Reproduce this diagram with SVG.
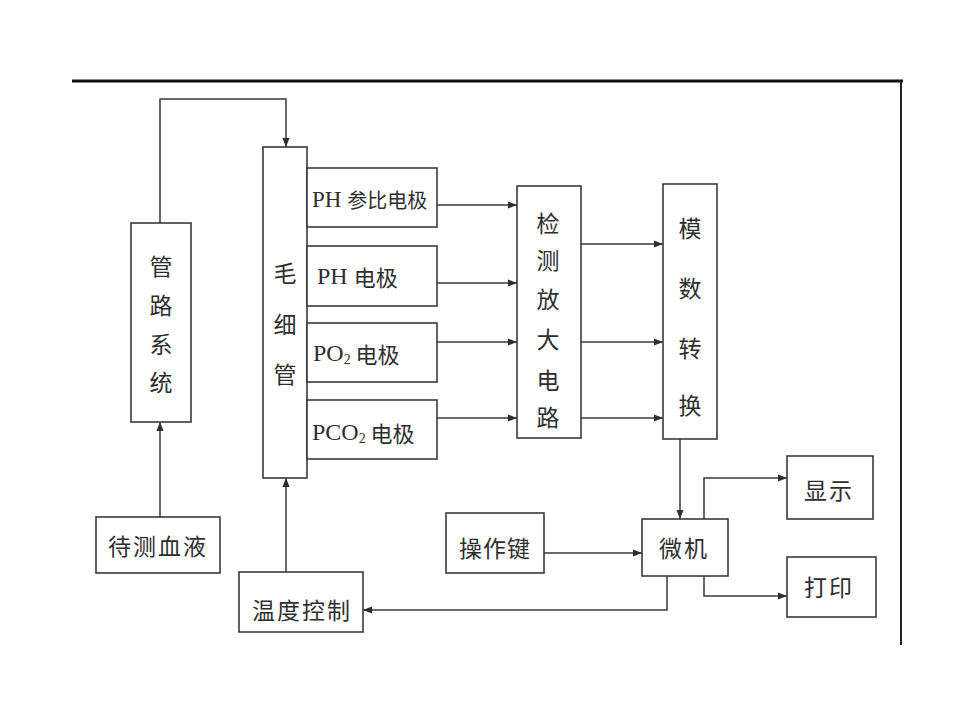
<svg xmlns="http://www.w3.org/2000/svg" width="960" height="720" viewBox="0 0 960 720">
<style>
.box{fill:#fff;stroke:#3a3a3a;stroke-width:1.6}
.cn{font-family:"Noto Sans CJK SC","Noto Sans",sans-serif;font-size:23px;fill:#2e2e2e;text-anchor:middle;dominant-baseline:central}
.lat{font-family:"Liberation Serif","Noto Sans CJK SC",serif;font-size:24px;fill:#2e2e2e;dominant-baseline:central}
.lat .c{font-family:"Noto Sans CJK SC",sans-serif;font-size:22px}
.ln{fill:none;stroke:#3a3a3a;stroke-width:1.5}
</style>
<defs>
<marker id="ah" viewBox="0 0 10 10" refX="10" refY="5" markerWidth="9" markerHeight="9" markerUnits="userSpaceOnUse" orient="auto">
<path d="M0,1 L10,5 L0,9 Z" fill="#2e2e2e"/>
</marker>
</defs>
<rect width="960" height="720" fill="#fff"/>
<g id="frame">
<line x1="72" y1="81" x2="903" y2="81" stroke="#111" stroke-width="3"/>
<line x1="901" y1="81" x2="901" y2="645" stroke="#222" stroke-width="2"/>
</g>
<g id="connectors">
<path class="ln" d="M160,223 V99 H286 V147" marker-end="url(#ah)"/>
<path class="ln" d="M160,517 V422" marker-end="url(#ah)"/>
<path class="ln" d="M286,572 V478" marker-end="url(#ah)"/>
<path class="ln" d="M437,205 H517" marker-end="url(#ah)"/>
<path class="ln" d="M437,283 H517" marker-end="url(#ah)"/>
<path class="ln" d="M437,342 H517" marker-end="url(#ah)"/>
<path class="ln" d="M437,418 H517" marker-end="url(#ah)"/>
<path class="ln" d="M581,244 H663" marker-end="url(#ah)"/>
<path class="ln" d="M581,342 H663" marker-end="url(#ah)"/>
<path class="ln" d="M581,418 H663" marker-end="url(#ah)"/>
<path class="ln" d="M680,439 V519" marker-end="url(#ah)"/>
<path class="ln" d="M544,553 H642" marker-end="url(#ah)"/>
<path class="ln" d="M704,519 V478 H787" marker-end="url(#ah)"/>
<path class="ln" d="M704,576 V596 H787" marker-end="url(#ah)"/>
<path class="ln" d="M667,576 V610 H363" marker-end="url(#ah)"/>
</g>
<g id="n-guanlu">
<rect class="box" x="131" y="223" width="60" height="199"/>
<text class="cn" x="161" y="265">管</text>
<text class="cn" x="161" y="304">路</text>
<text class="cn" x="161" y="343">系</text>
<text class="cn" x="161" y="381">统</text>
</g>
<g id="n-maoxiguan">
<rect class="box" x="263" y="147" width="44" height="331"/>
<text class="cn" x="285" y="272">毛</text>
<text class="cn" x="285" y="323">细</text>
<text class="cn" x="285" y="373">管</text>
</g>
<g id="n-ph-ref">
<rect class="box" x="307" y="168" width="130" height="59"/>
<text class="lat" x="312" y="199" style="font-size:23px">PH <tspan class="c" style="font-size:20px">参比电极</tspan></text>
</g>
<g id="n-ph">
<rect class="box" x="307" y="246" width="130" height="60"/>
<text class="lat" x="317" y="276">PH <tspan class="c">电极</tspan></text>
</g>
<g id="n-po2">
<rect class="box" x="307" y="323" width="130" height="59"/>
<text class="lat" x="313" y="353">PO<tspan style="font-size:14px" dy="6">2</tspan><tspan class="c" dy="-6"> 电极</tspan></text>
</g>
<g id="n-pco2">
<rect class="box" x="307" y="400" width="130" height="59"/>
<text class="lat" x="312" y="432">PCO<tspan style="font-size:14px" dy="6">2</tspan><tspan class="c" dy="-6"> 电极</tspan></text>
</g>
<g id="n-jiance">
<rect class="box" x="517" y="186" width="64" height="252"/>
<text class="cn" x="548" y="222">检</text>
<text class="cn" x="548" y="259">测</text>
<text class="cn" x="548" y="298">放</text>
<text class="cn" x="548" y="338">大</text>
<text class="cn" x="548" y="379">电</text>
<text class="cn" x="548" y="416">路</text>
</g>
<g id="n-moshu">
<rect class="box" x="663" y="184" width="54" height="255"/>
<text class="cn" x="690" y="227">模</text>
<text class="cn" x="690" y="287">数</text>
<text class="cn" x="690" y="347">转</text>
<text class="cn" x="690" y="404">换</text>
</g>
<g id="n-xueye">
<rect class="box" x="96" y="517" width="124" height="56"/>
<text class="cn" x="158" y="545" letter-spacing="2">待测血液</text>
</g>
<g id="n-wendu">
<rect class="box" x="239" y="572" width="124" height="60"/>
<text class="cn" x="302" y="609" letter-spacing="2">温度控制</text>
</g>
<g id="n-caozuo">
<rect class="box" x="446" y="513" width="98" height="60"/>
<text class="cn" x="495" y="547" letter-spacing="1">操作键</text>
</g>
<g id="n-weiji">
<rect class="box" x="642" y="519" width="86" height="57"/>
<text class="cn" x="684" y="547" letter-spacing="2">微机</text>
</g>
<g id="n-xianshi">
<rect class="box" x="787" y="456" width="86" height="63"/>
<text class="cn" x="829" y="489" letter-spacing="2">显示</text>
</g>
<g id="n-dayin">
<rect class="box" x="787" y="557" width="89" height="60"/>
<text class="cn" x="829" y="586" letter-spacing="2">打印</text>
</g>
</svg>
